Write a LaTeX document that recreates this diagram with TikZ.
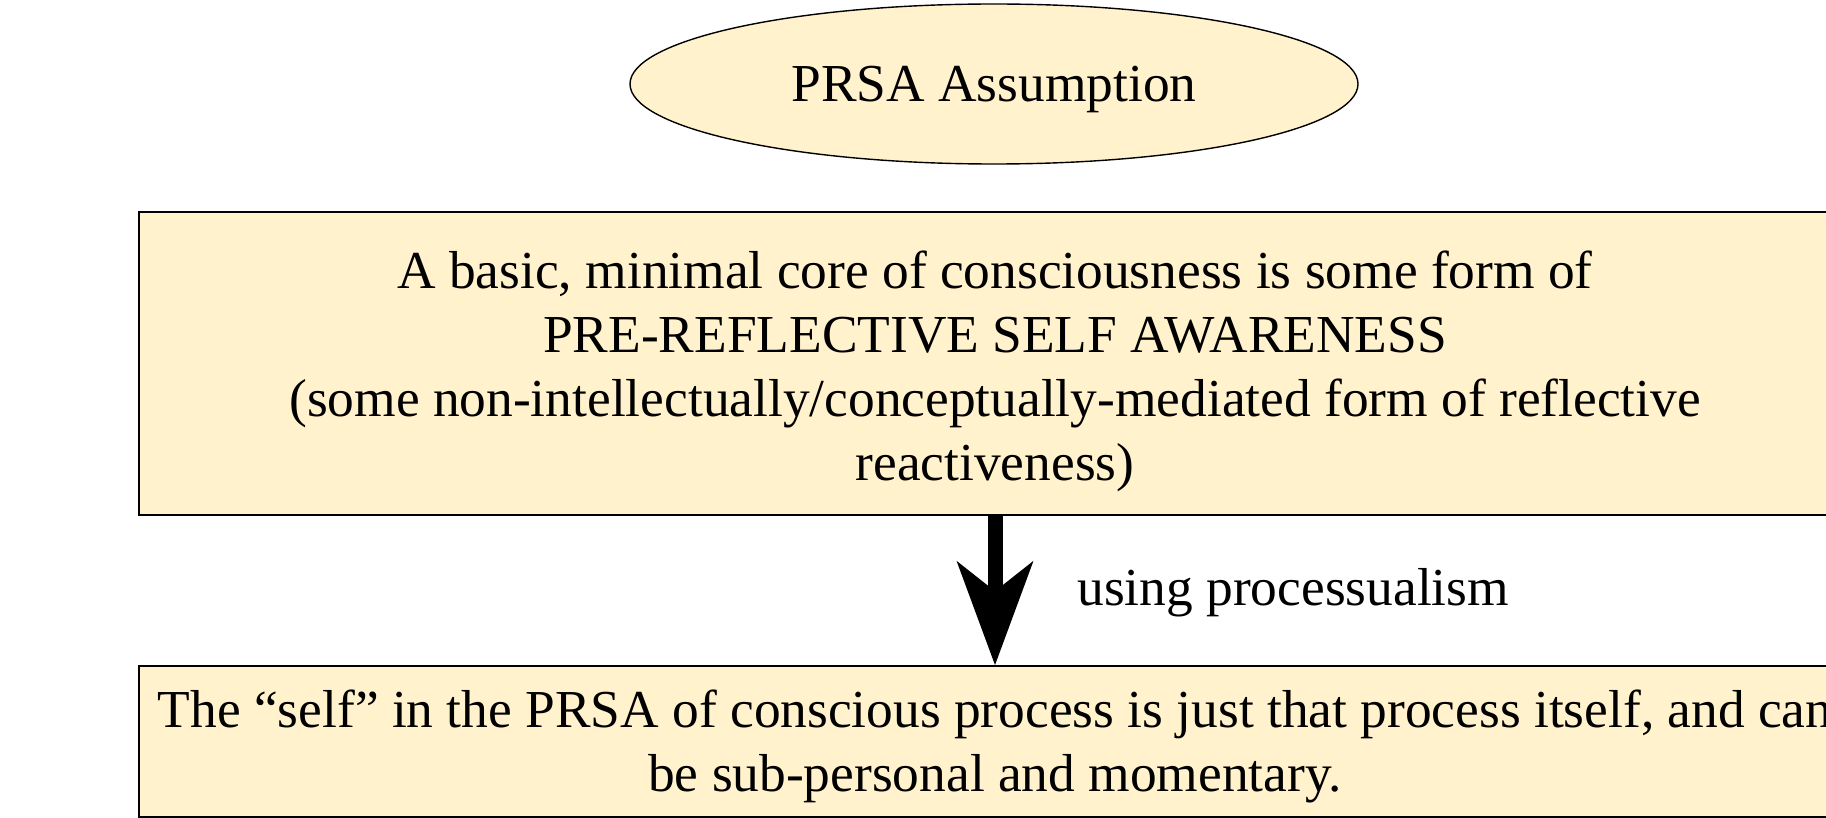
\documentclass[tikz,border=0pt]{standalone}
\usepackage{fontspec}
\setmainfont{Liberation Serif}
\usetikzlibrary{arrows.meta,shapes.geometric}
\definecolor{boxfill}{HTML}{FFF2CC}
\tikzset{
  shell/.style={draw=black, line width=0.7pt, fill=boxfill, inner sep=0pt},
  words/.style={font=\fontsize{26.7}{32}\selectfont, align=center, inner sep=0pt},
  oval/.style={shell, ellipse, minimum width=364pt, minimum height=80pt},
  panel/.style={shell, rectangle, minimum width=856.2pt},
  flow/.style={line width=7.5pt, -{Stealth[length=51.5pt, width=37.5pt, inset=14.5pt]}},
  caption/.style={words, anchor=west}
}
\begin{document}
\begin{tikzpicture}[x=0.5pt, y=-0.5pt]
  \useasboundingbox (0,0) rectangle (1826,818);
  \clip (0,0) rectangle (1826,818);
  \fill[white] (0,0) rectangle (1826,818);

  % heading
  \node[oval] (hdr) at (994,84) {};
  \node[words] (hdrtext) at (994,90) {PRSA Assumption};

  % claim and its consequence
  \node[panel, minimum height=151.5pt] (core) at (995,363.5) {};
  \node[words] (coretext) at (995,371)
    {A basic, minimal core of consciousness is some form of\\
     PRE-REFLECTIVE SELF AWARENESS\\
     (some non-intellectually/conceptually-mediated form of reflective\\
     reactiveness)};
  \node[panel, minimum height=75.5pt] (self) at (995,741.5) {};
  \node[words] (selftext) at (995,746)
    {The “self” in the PRSA of conscious process is just that process itself, and can\\
     be sub-personal and momentary.};

  % inference step
  \draw[flow] (core.south) -- (self.north);
  \node[caption] (lbl) at (1077,593) {using processualism};
\end{tikzpicture}
\end{document}
